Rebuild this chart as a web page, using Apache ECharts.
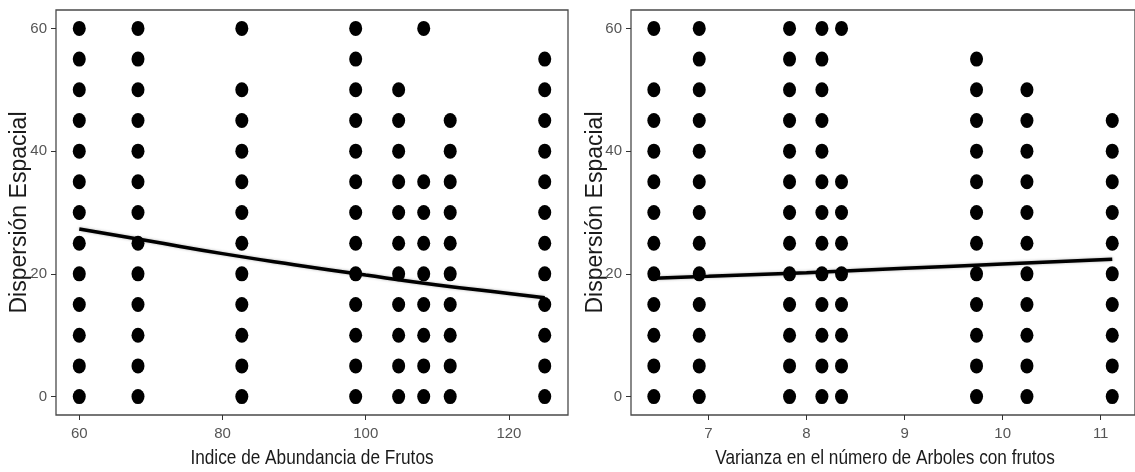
<!DOCTYPE html>
<html>
<head>
<meta charset="utf-8">
<script src="https://cdn.jsdelivr.net/npm/echarts@6/dist/echarts.min.js"></script>
<style>
  html, body { margin: 0; padding: 0; background: #fff; }
  #chart { width: 1135px; height: 472px; }
</style>
</head>
<body>
<div id="chart"></div>
<script>
// Left panel: fruit abundance index, one column of observations per site
const abundanceX = [60, 68.2, 82.7, 98.6, 104.6, 108.1, 111.8, 125];
const abundanceY = [
  [0, 5, 10, 15, 20, 25, 30, 35, 40, 45, 50, 55, 60],
  [0, 5, 10, 15, 20, 25, 30, 35, 40, 45, 50, 55, 60],
  [0, 5, 10, 15, 20, 25, 30, 35, 40, 45, 50, 60],
  [0, 5, 10, 15, 20, 25, 30, 35, 40, 45, 50, 55, 60],
  [0, 5, 10, 15, 20, 25, 30, 35, 40, 45, 50],
  [0, 5, 10, 15, 20, 25, 30, 35, 60],
  [0, 5, 10, 15, 20, 25, 30, 35, 40, 45],
  [0, 5, 10, 15, 20, 25, 30, 35, 40, 45, 50, 55]
];
// Fitted trend for the left panel
const abundanceFitX = [60, 70, 80, 90, 100, 110, 120, 125];
const abundanceFitY = [27.3, 25.3, 23.3, 21.5, 19.8, 18.2, 16.8, 16.1];

// Right panel: variance in the number of fruiting trees
const varianceX = [6.443, 6.906, 7.827, 8.157, 8.357, 9.734, 10.248, 11.118];
const varianceY = [
  [0, 5, 10, 15, 20, 25, 30, 35, 40, 45, 50, 60],
  [0, 5, 10, 15, 20, 25, 30, 35, 40, 45, 50, 55, 60],
  [0, 5, 10, 15, 20, 25, 30, 35, 40, 45, 50, 55, 60],
  [0, 5, 10, 15, 20, 25, 30, 35, 40, 45, 50, 55, 60],
  [0, 5, 10, 15, 20, 25, 30, 35, 60],
  [0, 5, 10, 15, 20, 25, 30, 35, 40, 45, 50, 55],
  [0, 5, 10, 15, 20, 25, 30, 35, 40, 45, 50],
  [0, 5, 10, 15, 20, 25, 30, 35, 40, 45]
];
// Fitted trend for the right panel
const varianceFitX = [6.443, 7, 8, 9, 10, 11.118];
const varianceFitY = [19.3, 19.6, 20.2, 20.9, 21.6, 22.4];

const abundanceTicks = [60, 80, 100, 120];
const varianceTicks = [7, 8, 9, 10, 11];
const yTicks = [0, 20, 40, 60];

const xTitleLeft = 'Indice de Abundancia de Frutos';
const xTitleRight = 'Varianza en el número de Arboles con frutos';
const yTitle = 'Dispersión Espacial';

function toPoints(xs, ys) {
  const out = [];
  xs.forEach((x, i) => ys[i].forEach(y => out.push([x, y])));
  return out;
}
function toLine(xs, ys) {
  return xs.map((x, i) => [x, ys[i]]);
}

const sans = "'Liberation Sans', Arial, sans-serif";
const tickColor = '#555';

function xAxis(idx, min, max, ticks) {
  return {
    type: 'value', gridIndex: idx, min: min, max: max,
    splitLine: { show: false },
    axisLine: { show: false, onZero: false },
    axisTick: { show: true, inside: false, length: 5, customValues: ticks, lineStyle: { color: '#333', width: 1 } },
    axisLabel: { customValues: ticks, margin: 11, fontFamily: sans, fontSize: 15, color: tickColor }
  };
}
function yAxis(idx, gap) {
  return {
    type: 'value', gridIndex: idx, min: -3, max: 63,
    name: yTitle, nameLocation: 'middle', nameGap: gap, nameRotate: 90,
    nameMoveOverlap: false,
    nameTextStyle: { fontFamily: sans, fontSize: 23, color: '#1a1a1a' },
    splitLine: { show: false },
    axisLine: { show: false, onZero: false },
    axisTick: { show: true, inside: false, length: 5, customValues: yTicks, lineStyle: { color: '#333', width: 1 } },
    axisLabel: { customValues: yTicks, margin: 9, fontFamily: sans, fontSize: 15, color: tickColor }
  };
}

// Condensed x-axis titles
function xTitle(text, cx) {
  return {
    type: 'text', x: cx, y: 458, scaleX: 0.82,
    style: {
      text: text, font: "21px 'Liberation Sans', Arial, sans-serif",
      fill: '#1a1a1a', align: 'center', verticalAlign: 'middle'
    }
  };
}

const pointStyle = { color: '#000', opacity: 1 };
const fitLine = {
  color: '#000', width: 3.5,
  shadowColor: 'rgba(0,0,0,0.3)', shadowBlur: 3
};

const chart = echarts.init(document.getElementById('chart'), null, { renderer: 'canvas' });
chart.setOption({
  backgroundColor: '#fff',
  animation: false,
  grid: [
    { left: 56, right: 567, top: 10, bottom: 57, show: true, borderColor: '#4a4a4a', borderWidth: 1.3, containLabel: false },
    { left: 631, right: -5, top: 10, bottom: 57, show: true, borderColor: '#4a4a4a', borderWidth: 1.3, containLabel: false }
  ],
  xAxis: [
    xAxis(0, 56.75, 128.25, abundanceTicks),
    xAxis(1, 6.21, 11.35, varianceTicks)
  ],
  yAxis: [yAxis(0, 25), yAxis(1, 24)],
  graphic: [
    xTitle(xTitleLeft, 312),
    xTitle(xTitleRight, 885)
  ],
  series: [
    {
      type: 'scatter', xAxisIndex: 0, yAxisIndex: 0,
      data: toPoints(abundanceX, abundanceY),
      symbol: 'circle', symbolSize: [13, 15], itemStyle: pointStyle, z: 2
    },
    {
      type: 'line', xAxisIndex: 0, yAxisIndex: 0,
      data: toLine(abundanceFitX, abundanceFitY),
      smooth: true, showSymbol: false, lineStyle: fitLine, z: 3
    },
    {
      type: 'scatter', xAxisIndex: 1, yAxisIndex: 1,
      data: toPoints(varianceX, varianceY),
      symbol: 'circle', symbolSize: [13, 15], itemStyle: pointStyle, z: 2
    },
    {
      type: 'line', xAxisIndex: 1, yAxisIndex: 1,
      data: toLine(varianceFitX, varianceFitY),
      smooth: true, showSymbol: false, lineStyle: fitLine, z: 3
    }
  ]
});
</script>
</body>
</html>
